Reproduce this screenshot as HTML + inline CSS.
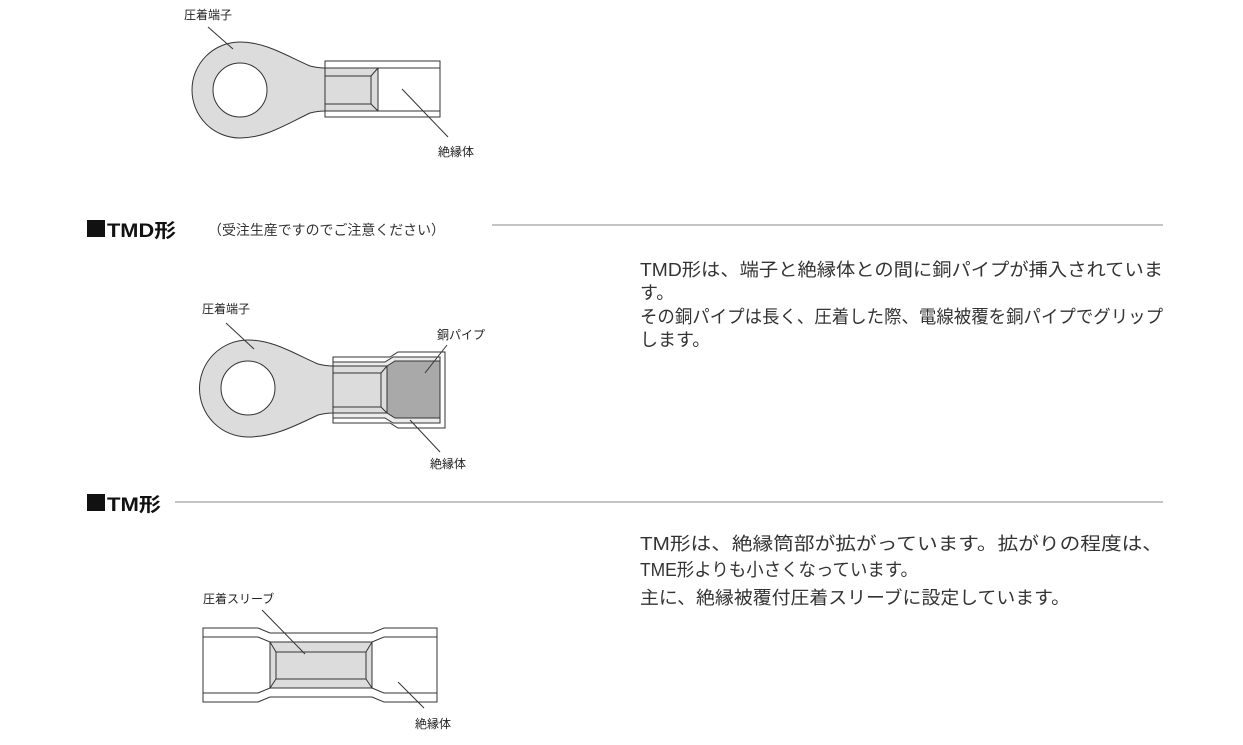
<!DOCTYPE html>
<html><head><meta charset="utf-8"><style>
html,body{margin:0;padding:0;background:#fff;}
svg{display:block;font-family:"Liberation Sans","Noto Sans CJK JP",sans-serif;}
</style></head><body>
<svg width="1243" height="745" viewBox="0 0 1243 745" xmlns="http://www.w3.org/2000/svg">
<g stroke="#333" stroke-width="1" fill="none">
<path d="M240,42 C265,42 285,55 310,66 Q318,68 325,68 L325,111 Q318,111 310,113 C285,125 265,138 240,138 A48,48 0 0 1 240,42 Z" fill="#dcdcdc"/>
<circle cx="240" cy="90" r="27" fill="#fff"/>
<rect x="325" y="61" width="115" height="56" fill="#fff"/>
<line x1="325" y1="68" x2="440" y2="68"/><line x1="325" y1="111" x2="440" y2="111"/>
<rect x="325" y="68" width="53" height="43" fill="#dcdcdc"/>
<path d="M325,76 L371,76 L371,104 L325,104 M371,76 L378,68 M371,104 L378,111"/>
<line x1="208" y1="27" x2="233" y2="49"/>
<line x1="402" y1="89" x2="448" y2="137"/>
<path d="M248,340 C273,340 293,353 318,364 Q326,366 333,366 L333,413 Q326,413 318,415 C293,427 273,437 248,437 A48.5,48.5 0 0 1 248,340 Z" fill="#dcdcdc"/>
<circle cx="248" cy="388" r="27" fill="#fff"/>
<path d="M333,357 L390,357 L398,352 L445,352 L445,428 L398,428 L390,423 L333,423 Z" fill="#fff"/>
<path d="M333,362 L385,362 L393,357 L440,357 L440,423 L393,423 L385,418 L333,418 Z" fill="#ececec"/>
<path d="M387,366 L395,361 L440,361 L440,418 L395,418 L387,413 Z" fill="#a9a9a9"/>
<rect x="333" y="366" width="54" height="47" fill="#dcdcdc"/>
<path d="M333,373 L381,373 L381,407 L333,407 M381,373 L387,366 M381,407 L387,413"/>
<line x1="226" y1="323" x2="254" y2="349"/>
<line x1="447" y1="345" x2="425" y2="373"/>
<line x1="410" y1="420" x2="440" y2="452"/>
<path d="M203,628 L258,628 L270,633 L372,633 L384,628 L437,628 L437,702 L384,702 L372,697 L270,697 L258,702 L203,702 Z" fill="#fff"/>
<path d="M203,637 L258,637 L270,642 L372,642 L384,637 L437,637 M203,693 L258,693 L270,688 L372,688 L384,693 L437,693"/>
<rect x="270" y="642" width="102" height="46" fill="#dcdcdc"/>
<rect x="276" y="652" width="90" height="27"/>
<path d="M270,642 L276,652 M372,642 L366,652 M270,688 L276,679 M372,688 L366,679"/>
<line x1="262" y1="610" x2="305" y2="654"/>
<line x1="398" y1="682" x2="424" y2="708"/>
</g>
<line x1="492" y1="225" x2="1163" y2="225" stroke="#888" stroke-width="1"/>
<line x1="175" y1="502" x2="1163" y2="502" stroke="#888" stroke-width="1"/>
<g fill="#222" font-size="12">
<text x="184" y="19">圧着端子</text>
<text x="438" y="156">絶縁体</text>
<text x="202" y="313">圧着端子</text>
<text x="437" y="339">銅パイプ</text>
<text x="430" y="468">絶縁体</text>
<text x="203" y="603">圧着スリーブ</text>
<text x="415" y="728">絶縁体</text>
</g>
<rect x="87" y="220" width="18" height="17" fill="#111"/>
<rect x="87" y="494" width="18" height="17" fill="#111"/>
<g fill="#111" font-weight="bold" font-size="19">
<text x="107" y="237" textLength="69" lengthAdjust="spacingAndGlyphs">TMD形</text>
<text x="107" y="511" textLength="54" lengthAdjust="spacingAndGlyphs">TM形</text>
</g>
<text x="208" y="235" font-size="14" fill="#333" textLength="237" lengthAdjust="spacingAndGlyphs">（受注生産ですのでご注意ください）</text>
<g fill="#333" font-size="18">
<text x="640" y="276" textLength="523" lengthAdjust="spacingAndGlyphs">TMD形は、端子と絶縁体との間に銅パイプが挿入されていま</text>
<text x="640" y="299">す。</text>
<text x="640" y="323" textLength="523" lengthAdjust="spacingAndGlyphs">その銅パイプは長く、圧着した際、電線被覆を銅パイプでグリップ</text>
<text x="640" y="346">します。</text>
<text x="640" y="550" textLength="523" lengthAdjust="spacingAndGlyphs">TM形は、絶縁筒部が拡がっています。拡がりの程度は、</text>
<text x="640" y="576" textLength="278" lengthAdjust="spacingAndGlyphs">TME形よりも小さくなっています。</text>
<text x="640" y="604" textLength="430" lengthAdjust="spacingAndGlyphs">主に、絶縁被覆付圧着スリーブに設定しています。</text>
</g>
</svg>
</body></html>
